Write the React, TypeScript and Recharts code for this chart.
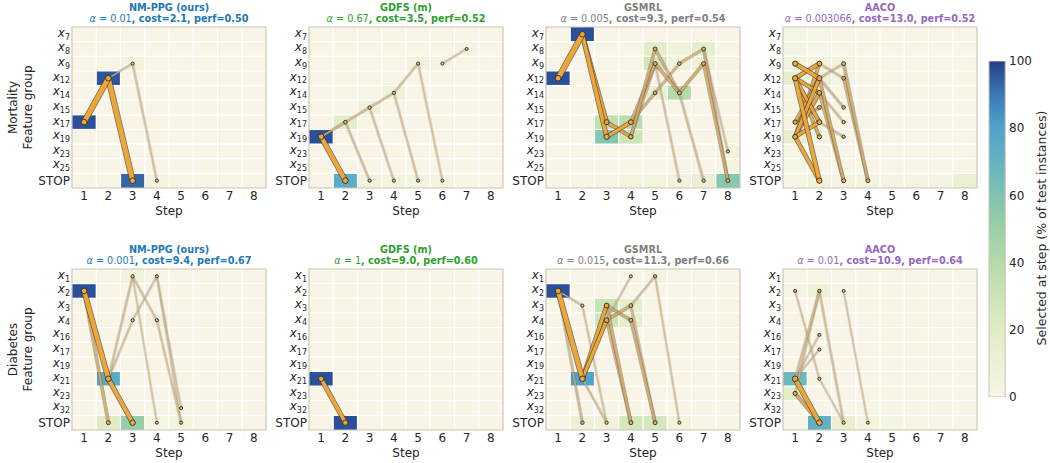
import React from 'react';
import { ComposedChart, XAxis, YAxis, ReferenceArea, Line, Scatter, Bar } from 'recharts';

// ---------------- data ----------------
const MORT_ROWS = ['x7', 'x8', 'x9', 'x12', 'x14', 'x15', 'x17', 'x19', 'x23', 'x25', 'STOP'];
const DIAB_ROWS = ['x1', 'x2', 'x3', 'x4', 'x16', 'x17', 'x19', 'x21', 'x23', 'x32', 'STOP'];
const STEPS = [1, 2, 3, 4, 5, 6, 7, 8];
const CB_TICKS = [0, 20, 40, 60, 80, 100];
const CB_DATA = [{ k: 'scale', v: 100 }];

const METHODS = ['NM-PPG (ours)', 'GDFS (m)', 'GSMRL', 'AACO'];
const MORT_ALPHA = ['0.01', '0.67', '0.005', '0.003066'];
const MORT_COST = ['2.1', '3.5', '9.3', '13.0'];
const MORT_PERF = ['0.50', '0.52', '0.54', '0.52'];
const DIAB_ALPHA = ['0.001', '1', '0.015', '0.01'];
const DIAB_COST = ['9.4', '9.0', '11.3', '10.9'];
const DIAB_PERF = ['0.67', '0.60', '0.66', '0.64'];

// heatmaps: rows (feature groups) x steps 1..8, % of test instances
const HEAT_MORT_NMPPG = [
  [0, 0, 0, 0, 0, 0, 0, 0],
  [0, 0, 0, 0, 0, 0, 0, 0],
  [0, 0, 6, 0, 0, 0, 0, 0],
  [0, 96, 0, 0, 0, 0, 0, 0],
  [0, 0, 0, 0, 0, 0, 0, 0],
  [0, 0, 0, 0, 0, 0, 0, 0],
  [97, 0, 0, 0, 0, 0, 0, 0],
  [0, 0, 0, 0, 0, 0, 0, 0],
  [0, 0, 0, 0, 0, 0, 0, 0],
  [0, 0, 0, 0, 0, 0, 0, 0],
  [0, 0, 93, 5, 0, 0, 0, 0],
];
const HEAT_MORT_GDFS = [
  [0, 0, 0, 0, 0, 0, 0, 0],
  [0, 0, 0, 0, 0, 0, 3, 0],
  [0, 0, 0, 0, 4, 3, 0, 0],
  [0, 0, 0, 0, 0, 0, 0, 0],
  [0, 0, 0, 8, 0, 0, 0, 0],
  [0, 0, 8, 0, 0, 0, 0, 0],
  [0, 18, 0, 0, 0, 0, 0, 0],
  [97, 0, 0, 0, 0, 0, 0, 0],
  [0, 0, 0, 0, 0, 0, 0, 0],
  [0, 0, 0, 0, 0, 0, 0, 0],
  [0, 74, 6, 5, 3, 3, 0, 0],
];
const HEAT_MORT_GSMRL = [
  [0, 97, 0, 0, 0, 0, 0, 0],
  [0, 0, 0, 0, 18, 8, 16, 0],
  [0, 0, 0, 0, 28, 8, 10, 3],
  [97, 0, 0, 0, 0, 0, 0, 0],
  [0, 0, 0, 0, 15, 40, 0, 0],
  [0, 0, 0, 0, 0, 0, 0, 0],
  [0, 0, 35, 38, 0, 0, 0, 0],
  [0, 0, 58, 30, 0, 0, 0, 0],
  [0, 0, 0, 0, 0, 0, 0, 5],
  [0, 0, 0, 0, 0, 0, 0, 3],
  [0, 0, 0, 5, 5, 6, 12, 57],
];
const HEAT_MORT_AACO = [
  [2, 1, 0, 0, 0, 0, 0, 0],
  [3, 1, 0, 0, 0, 0, 0, 0],
  [6, 6, 5, 0, 0, 0, 0, 0],
  [15, 10, 3, 0, 0, 0, 0, 0],
  [2, 3, 1, 0, 0, 0, 0, 0],
  [3, 2, 2, 0, 0, 0, 0, 0],
  [5, 4, 2, 0, 0, 0, 0, 0],
  [14, 3, 2, 0, 0, 0, 0, 0],
  [2, 1, 0, 0, 0, 0, 0, 0],
  [1, 1, 0, 0, 0, 0, 0, 0],
  [0, 6, 4, 4, 3, 3, 3, 12],
];
const HEAT_DIAB_NMPPG = [
  [0, 0, 6, 0, 0, 0, 0, 0],
  [97, 0, 0, 0, 0, 0, 0, 0],
  [0, 0, 0, 0, 0, 0, 0, 0],
  [0, 0, 3, 6, 0, 0, 0, 0],
  [0, 0, 0, 0, 0, 0, 0, 0],
  [0, 0, 0, 0, 0, 0, 0, 0],
  [0, 0, 0, 0, 0, 0, 0, 0],
  [0, 75, 0, 0, 0, 0, 0, 0],
  [0, 0, 0, 0, 0, 0, 0, 0],
  [0, 0, 0, 0, 2, 0, 0, 0],
  [0, 20, 52, 2, 5, 0, 0, 0],
];
const HEAT_DIAB_GDFS = [
  [0, 0, 0, 0, 0, 0, 0, 0],
  [0, 0, 0, 0, 0, 0, 0, 0],
  [0, 0, 0, 0, 0, 0, 0, 0],
  [0, 0, 0, 0, 0, 0, 0, 0],
  [0, 0, 0, 0, 0, 0, 0, 0],
  [0, 0, 0, 0, 0, 0, 0, 0],
  [0, 0, 0, 0, 0, 0, 0, 0],
  [97, 0, 0, 0, 0, 0, 0, 0],
  [0, 0, 0, 0, 0, 0, 0, 0],
  [0, 0, 0, 0, 0, 0, 0, 0],
  [0, 97, 0, 0, 0, 0, 0, 0],
];
const HEAT_DIAB_GSMRL = [
  [0, 0, 0, 0, 3, 0, 0, 0],
  [97, 0, 0, 0, 0, 0, 0, 0],
  [0, 3, 32, 16, 0, 0, 0, 0],
  [0, 0, 30, 16, 0, 0, 0, 0],
  [0, 0, 0, 0, 0, 0, 0, 0],
  [0, 0, 0, 0, 0, 0, 0, 0],
  [0, 0, 0, 0, 0, 0, 0, 0],
  [0, 80, 0, 0, 0, 0, 0, 0],
  [0, 0, 0, 0, 0, 0, 0, 0],
  [0, 0, 0, 0, 0, 0, 0, 0],
  [0, 9, 8, 26, 26, 6, 0, 0],
];
const HEAT_DIAB_AACO = [
  [0, 0, 0, 0, 0, 0, 0, 0],
  [2, 10, 2, 0, 0, 0, 0, 0],
  [0, 0, 0, 0, 0, 0, 0, 0],
  [0, 0, 0, 0, 0, 0, 0, 0],
  [0, 1, 0, 0, 0, 0, 0, 0],
  [0, 1, 0, 0, 0, 0, 0, 0],
  [0, 0, 0, 0, 0, 0, 0, 0],
  [66, 3, 0, 0, 0, 0, 0, 0],
  [18, 0, 0, 0, 0, 0, 0, 0],
  [0, 0, 0, 0, 0, 0, 0, 0],
  [0, 71, 12, 5, 3, 0, 0, 0],
];

// transitions: [step, from, to, relative line weight]
const TR_MORT_NMPPG = [
  [1, 'x17', 'x12', 0.93],
  [2, 'x12', 'STOP', 0.92],
  [2, 'x12', 'x9', 0.04],
  [3, 'x9', 'STOP', 0.04],
];
const TR_MORT_GDFS = [
  [1, 'x19', 'STOP', 0.7],
  [1, 'x19', 'x17', 0.1],
  [2, 'x17', 'x15', 0.06],
  [2, 'x17', 'STOP', 0.05],
  [3, 'x15', 'x14', 0.05],
  [3, 'x15', 'STOP', 0.04],
  [4, 'x14', 'x9', 0.04],
  [4, 'x14', 'STOP', 0.04],
  [5, 'x9', 'STOP', 0.03],
  [6, 'x9', 'x8', 0.03],
];
const TR_MORT_GSMRL = [
  [1, 'x12', 'x7', 0.95],
  [2, 'x7', 'x19', 0.5],
  [2, 'x7', 'x17', 0.4],
  [3, 'x17', 'x19', 0.25],
  [3, 'x19', 'x17', 0.35],
  [4, 'x17', 'x9', 0.14],
  [4, 'x17', 'x14', 0.12],
  [4, 'x19', 'x8', 0.14],
  [4, 'x19', 'x9', 0.12],
  [5, 'x9', 'x14', 0.16],
  [5, 'x8', 'x14', 0.12],
  [5, 'x14', 'x9', 0.1],
  [5, 'x9', 'STOP', 0.04],
  [6, 'x14', 'x9', 0.16],
  [6, 'x14', 'STOP', 0.06],
  [6, 'x9', 'x8', 0.1],
  [7, 'x9', 'STOP', 0.14],
  [7, 'x8', 'STOP', 0.12],
  [7, 'x8', 'x23', 0.04],
];
const TR_MORT_AACO = [
  [1, 'x9', 'x12', 0.45],
  [1, 'x12', 'x9', 0.35],
  [1, 'x12', 'x14', 0.3],
  [1, 'x12', 'x17', 0.3],
  [1, 'x12', 'x19', 0.22],
  [1, 'x12', 'STOP', 0.5],
  [1, 'x19', 'x12', 0.35],
  [1, 'x19', 'x14', 0.28],
  [1, 'x19', 'x17', 0.35],
  [1, 'x19', 'x9', 0.22],
  [1, 'x19', 'STOP', 0.35],
  [1, 'x17', 'x12', 0.22],
  [1, 'x17', 'x15', 0.15],
  [2, 'x12', 'STOP', 0.18],
  [2, 'x14', 'STOP', 0.14],
  [2, 'x12', 'x15', 0.08],
  [2, 'x14', 'x17', 0.05],
  [2, 'x17', 'x19', 0.05],
  [2, 'x12', 'x9', 0.05],
  [2, 'x9', 'x12', 0.05],
  [3, 'x9', 'STOP', 0.14],
  [3, 'x12', 'STOP', 0.12],
];
const TR_DIAB_NMPPG = [
  [1, 'x2', 'x21', 0.75],
  [1, 'x2', 'STOP', 0.15],
  [2, 'x21', 'STOP', 0.55],
  [2, 'x21', 'x1', 0.05],
  [2, 'x21', 'x4', 0.04],
  [3, 'x1', 'x4', 0.04],
  [3, 'x1', 'STOP', 0.02],
  [3, 'x4', 'x1', 0.03],
  [4, 'x1', 'x32', 0.02],
  [4, 'x1', 'STOP', 0.02],
  [4, 'x4', 'STOP', 0.04],
];
const TR_DIAB_GDFS = [
  [1, 'x21', 'STOP', 0.5],
];
const TR_DIAB_GSMRL = [
  [1, 'x2', 'x21', 0.8],
  [1, 'x2', 'STOP', 0.08],
  [1, 'x2', 'x3', 0.04],
  [2, 'x3', 'STOP', 0.03],
  [2, 'x21', 'x3', 0.35],
  [2, 'x21', 'x4', 0.35],
  [2, 'x21', 'STOP', 0.05],
  [3, 'x3', 'x4', 0.14],
  [3, 'x4', 'x3', 0.14],
  [3, 'x3', 'STOP', 0.15],
  [3, 'x4', 'STOP', 0.12],
  [3, 'x4', 'x1', 0.03],
  [4, 'x3', 'x1', 0.05],
  [4, 'x4', 'STOP', 0.14],
  [4, 'x3', 'STOP', 0.08],
  [5, 'x1', 'STOP', 0.03],
];
const TR_DIAB_AACO = [
  [1, 'x21', 'STOP', 0.6],
  [1, 'x23', 'STOP', 0.2],
  [1, 'x21', 'x2', 0.06],
  [1, 'x23', 'x2', 0.04],
  [1, 'x21', 'x16', 0.03],
  [1, 'x21', 'x17', 0.03],
  [1, 'x2', 'x21', 0.03],
  [2, 'x2', 'STOP', 0.05],
  [2, 'x21', 'STOP', 0.02],
  [3, 'x2', 'STOP', 0.02],
];

const MORT_HEATS = [HEAT_MORT_NMPPG, HEAT_MORT_GDFS, HEAT_MORT_GSMRL, HEAT_MORT_AACO];
const DIAB_HEATS = [HEAT_DIAB_NMPPG, HEAT_DIAB_GDFS, HEAT_DIAB_GSMRL, HEAT_DIAB_AACO];
const MORT_TRANS = [TR_MORT_NMPPG, TR_MORT_GDFS, TR_MORT_GSMRL, TR_MORT_AACO];
const DIAB_TRANS = [TR_DIAB_NMPPG, TR_DIAB_GDFS, TR_DIAB_GSMRL, TR_DIAB_AACO];

// ---------------- style / layout ----------------
const METHOD_COLORS = ['#1f77b4', '#2ca02c', '#7f7f7f', '#9467bd'];
const TEXT = '#262626';
const FONT = '"DejaVu Sans", "Liberation Sans", sans-serif';
const CMAP: [number, string][] = [
  [0, '#f8f5e7'],
  [10, '#eef1d5'],
  [20, '#e1ecc4'],
  [30, '#cde4b6'],
  [40, '#b5daab'],
  [50, '#9bd0a8'],
  [60, '#7fc3b1'],
  [70, '#63b3c2'],
  [80, '#50a3ca'],
  [90, '#3b79b6'],
  [100, '#243e8c'],
];
const PLOT_LEFT = [72, 309, 546, 783];
const PLOT_TOP = [27, 269];
const PW = 194;
const PH = 161;
const YW = 60;
const MT = 4;
const MR = 4;
const XH = 32;
const CB_LEFT = 988;
const CB_TOP = 61;
const CB_W = 18;
const CB_H = 336;
const CB_PAD = 12;

function hexToRgb(h: string) {
  const n = parseInt(h.slice(1), 16);
  return [(n >> 16) & 255, (n >> 8) & 255, n & 255];
}
function mix(a: string, b: string, t: number) {
  const A = hexToRgb(a);
  const B = hexToRgb(b);
  const c = A.map((v, i) => Math.round(v + (B[i] - v) * t));
  return `rgb(${c[0]},${c[1]},${c[2]})`;
}
function cmap(v: number) {
  for (let i = 1; i < CMAP.length; i++) {
    if (v <= CMAP[i][0]) {
      const [v0, c0] = CMAP[i - 1];
      const [v1, c1] = CMAP[i];
      return mix(c0, c1, (v - v0) / (v1 - v0));
    }
  }
  return CMAP[CMAP.length - 1][1];
}
function lineStyle(w: number) {
  const t = Math.min(1, w / 0.3);
  return {
    core: mix('#cdb78c', '#f0a632', t),
    width: 1.2 + 3.8 * Math.pow(w, 0.7),
    outlineOpacity: 0.08 + 0.62 * t,
    coreOpacity: 0.72 + 0.28 * t,
  };
}

const RowTick = (props: any) => {
  const { x, y, payload, rows } = props;
  const lab: string = rows[payload.value];
  if (lab === 'STOP') {
    return (
      <text x={x} y={y + 4.4} textAnchor="end" fontSize={12} fill={TEXT}>
        STOP
      </text>
    );
  }
  return (
    <text x={x} y={y + 2.4} textAnchor="end" fontSize={12} fill={TEXT}>
      <tspan fontStyle="italic">x</tspan>
      <tspan fontSize={8} dy={2.8}>{lab.slice(1)}</tspan>
    </text>
  );
};

function HeatPanel({ rows, heat, trans, left, top }: any) {
  const W = YW + PW + MR;
  const H = MT + PH + XH;
  const gx = 0.025;
  const gy = 0.04;
  const cells: any[] = [];
  heat.forEach((vals: number[], ri: number) =>
    vals.forEach((v: number, si: number) => {
      const step = si + 1;
      cells.push(
        <ReferenceArea
          key={`c-${ri}-${step}`}
          x1={step - 0.5 + (step > 1 ? gx : 0)}
          x2={step + 0.5 - (step < 8 ? gx : 0)}
          y1={ri - 0.5 + (ri > 0 ? gy : 0)}
          y2={ri + 0.5 - (ri < rows.length - 1 ? gy : 0)}
          fill={cmap(v)}
          fillOpacity={1}
          stroke="none"
        />
      );
    })
  );

  const sorted = [...trans].sort((p: any, q: any) => p[3] - q[3]);
  const nodeMap = new Map<string, any>();
  const lines: any[] = [];
  sorted.forEach((tr: any, k: number) => {
    const [s, a, b, w] = tr;
    const ia = rows.indexOf(a);
    const ib = rows.indexOf(b);
    const pts = [
      { x: s, y: ia },
      { x: s + 1, y: ib },
    ];
    pts.forEach((p) => {
      const key = `${p.x}-${p.y}`;
      const prev = nodeMap.get(key);
      if (!prev || prev.w < w) nodeMap.set(key, { x: p.x, y: p.y, w });
    });
    const st = lineStyle(w);
    lines.push(
      <Line
        key={`o-${k}`}
        data={pts}
        dataKey="y"
        type="linear"
        stroke="#3a3a48"
        strokeOpacity={st.outlineOpacity}
        strokeWidth={st.width + 1.6}
        strokeLinecap="round"
        dot={false}
        activeDot={false}
        legendType="none"
        isAnimationActive={false}
      />
    );
    lines.push(
      <Line
        key={`l-${k}`}
        data={pts}
        dataKey="y"
        type="linear"
        stroke={st.core}
        strokeOpacity={st.coreOpacity}
        strokeWidth={st.width}
        strokeLinecap="round"
        dot={false}
        activeDot={false}
        legendType="none"
        isAnimationActive={false}
      />
    );
  });
  const nodes = [...nodeMap.values()]
    .sort((p, q) => p.w - q.w)
    .map((n) => ({
      ...n,
      r: 1.2 + 1.6 * Math.min(1, Math.sqrt(n.w / 0.6)),
      fill: lineStyle(n.w).core,
    }));

  return (
    <div style={{ position: 'absolute', left: left - YW, top: top - MT }}>
      <ComposedChart width={W} height={H} margin={{ top: MT, right: MR, bottom: 0, left: 0 }}>
        <XAxis
          type="number"
          dataKey="x"
          domain={[0.5, 8.5]}
          allowDataOverflow
          ticks={STEPS}
          interval={0}
          axisLine={false}
          tickLine={false}
          tickSize={0}
          tickMargin={3.5}
          height={XH}
          tick={{ fontSize: 12, fill: TEXT }}
          label={{ value: 'Step', position: 'insideBottom', offset: XH - 26.5, fontSize: 12, fill: TEXT }}
        />
        <YAxis
          type="number"
          dataKey="y"
          domain={[-0.5, rows.length - 0.5]}
          allowDataOverflow
          reversed
          ticks={rows.map((_: any, i: number) => i)}
          interval={0}
          axisLine={false}
          tickLine={false}
          tickSize={0}
          tickMargin={2}
          width={YW}
          tick={(p: any) => <RowTick {...p} rows={rows} />}
        />
        {cells}
        <ReferenceArea
          x1={0.5}
          x2={8.5}
          y1={-0.5}
          y2={rows.length - 0.5}
          fill="none"
          stroke="#cdc6b6"
          strokeWidth={1.2}
        />
        {lines}
        <Scatter
          data={nodes}
          isAnimationActive={false}
          legendType="none"
          shape={(p: any) => {
            const d = p.payload || {};
            return (
              <circle
                cx={p.cx}
                cy={p.cy}
                r={d.r ?? 2}
                fill={d.fill ?? '#f0a632'}
                stroke="#2f2f2f"
                strokeWidth={0.9}
              />
            );
          }}
        />
      </ComposedChart>
    </div>
  );
}

function Colorbar() {
  return (
    <div style={{ position: 'absolute', left: CB_LEFT, top: CB_TOP - CB_PAD }}>
      <ComposedChart
        width={CB_W + 40}
        height={CB_H + 2 * CB_PAD}
        data={CB_DATA}
        margin={{ top: CB_PAD, right: 0, bottom: CB_PAD, left: 0 }}
        barCategoryGap={0}
        barGap={0}
      >
        <defs>
          <linearGradient id="cbgrad" x1="0" y1="1" x2="0" y2="0">
            {CMAP.map(([v, c]) => (
              <stop key={v} offset={`${v}%`} stopColor={c} />
            ))}
          </linearGradient>
        </defs>
        <XAxis type="category" dataKey="k" hide />
        <YAxis
          type="number"
          orientation="right"
          domain={[0, 100]}
          allowDataOverflow
          ticks={CB_TICKS}
          interval={0}
          axisLine={false}
          tickLine={false}
          tickSize={0}
          tickMargin={3}
          width={40}
          tick={{ fontSize: 12, fill: TEXT }}
        />
        <Bar
          dataKey="v"
          barSize={CB_W}
          fill="url(#cbgrad)"
          stroke="#c9c2b1"
          strokeWidth={1}
          isAnimationActive={false}
          legendType="none"
        />
      </ComposedChart>
    </div>
  );
}

function Titles() {
  const rowsInfo = [
    { alpha: MORT_ALPHA, cost: MORT_COST, perf: MORT_PERF, top: PLOT_TOP[0] },
    { alpha: DIAB_ALPHA, cost: DIAB_COST, perf: DIAB_PERF, top: PLOT_TOP[1] },
  ];
  const out: any[] = [];
  rowsInfo.forEach((ri, r) => {
    METHODS.forEach((m, c) => {
      const cx = PLOT_LEFT[c] + PW / 2;
      out.push(
        <text key={`t1-${r}-${c}`} x={cx} y={ri.top - 16} textAnchor="middle" fontSize={9.7} fontWeight="bold" fill={METHOD_COLORS[c]}>
          {m}
        </text>
      );
      out.push(
        <text key={`t2-${r}-${c}`} x={cx} y={ri.top - 5.5} textAnchor="middle" fontSize={9.7} fill={METHOD_COLORS[c]}>
          <tspan fontStyle="italic">α</tspan>
          <tspan>{` = ${ri.alpha[c]}`}</tspan>
          <tspan fontWeight="bold">{`, cost=${ri.cost[c]}, perf=${ri.perf[c]}`}</tspan>
        </text>
      );
    });
  });
  const yl = (cy: number, first: string, key: string) => [
    <text key={`${key}a`} x={17} y={cy} transform={`rotate(-90 17 ${cy})`} textAnchor="middle" fontSize={12} fill={TEXT}>
      {first}
    </text>,
    <text key={`${key}b`} x={31.5} y={cy} transform={`rotate(-90 31.5 ${cy})`} textAnchor="middle" fontSize={12} fill={TEXT}>
      Feature group
    </text>,
  ];
  return (
    <svg width={1050} height={463} style={{ position: 'absolute', left: 0, top: 0, pointerEvents: 'none' }}>
      {out}
      {yl(PLOT_TOP[0] + PH / 2, 'Mortality', 'm')}
      {yl(PLOT_TOP[1] + PH / 2, 'Diabetes', 'd')}
      <text x={1045.5} y={228} transform="rotate(-90 1045.5 228)" textAnchor="middle" fontSize={12.5} fill={TEXT}>
        Selected at step (% of test instances)
      </text>
    </svg>
  );
}

export default function App() {
  return (
    <div
      style={{
        position: 'absolute',
        left: 0,
        top: 0,
        width: 1050,
        height: 463,
        background: '#ffffff',
        fontFamily: FONT,
        overflow: 'hidden',
      }}
    >
      {METHODS.map((_, c) => (
        <HeatPanel key={`m${c}`} rows={MORT_ROWS} heat={MORT_HEATS[c]} trans={MORT_TRANS[c]} left={PLOT_LEFT[c]} top={PLOT_TOP[0]} />
      ))}
      {METHODS.map((_, c) => (
        <HeatPanel key={`d${c}`} rows={DIAB_ROWS} heat={DIAB_HEATS[c]} trans={DIAB_TRANS[c]} left={PLOT_LEFT[c]} top={PLOT_TOP[1]} />
      ))}
      <Colorbar />
      <Titles />
    </div>
  );
}
